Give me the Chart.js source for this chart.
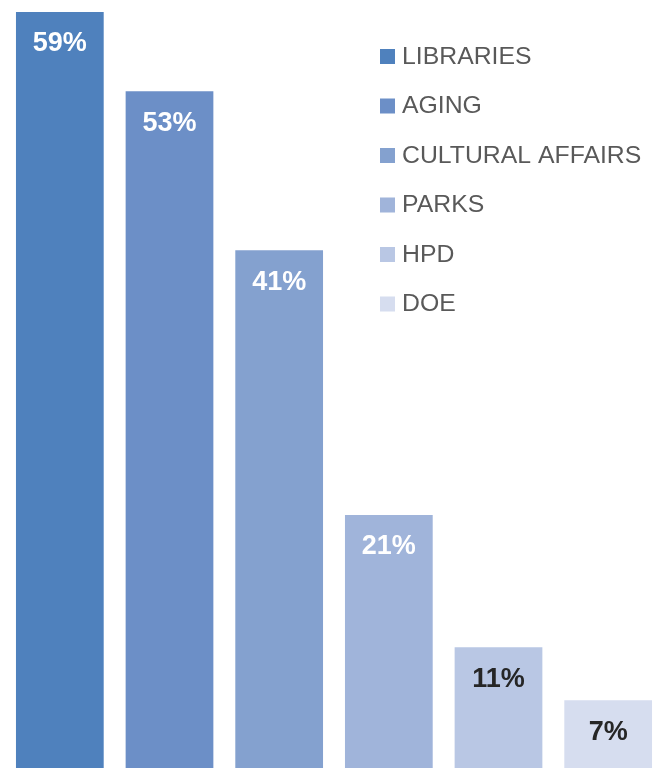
<!DOCTYPE html>
<html>
<head>
<meta charset="utf-8">
<script src="https://cdn.jsdelivr.net/npm/chart.js@4/dist/chart.umd.min.js"></script>
<style>
  html, body { margin: 0; padding: 0; background: #fff; overflow: hidden; width: 655px; height: 768px; }
  #chart { position: absolute; left: 0; top: 0; }
</style>
</head>
<body>
<canvas id="chart" width="663" height="793"></canvas>
<script>
// values (percent)
var categories = ['LIBRARIES', 'AGING', 'CULTURAL AFFAIRS', 'PARKS', 'HPD', 'DOE'];
var values = [59, 53, 41, 21, 11, 7];
var valueLabels = ['59%', '53%', '41%', '21%', '11%', '7%'];
var barColors = ['#4f81bd', '#6c8fc7', '#84a1cf', '#a0b4da', '#b9c7e4', '#d6ddef'];
var labelColors = ['#ffffff', '#ffffff', '#ffffff', '#ffffff', '#262626', '#262626'];

var barLabels = {
    id: 'barLabels',
    afterDatasetsDraw: function(chart) {
        var c = chart.ctx;
        var meta = chart.getDatasetMeta(0);
        c.save();
        c.font = 'bold 27px "Liberation Sans", Arial, sans-serif';
        c.textAlign = 'center';
        c.textBaseline = 'middle';
        meta.data.forEach(function(bar, i) {
            c.fillStyle = labelColors[i];
            c.fillText(valueLabels[i], bar.x, bar.y + 32);
        });
        c.restore();
    }
};

// legend drawn inside the plot, top right
var sideLegend = {
    id: 'sideLegend',
    afterDraw: function(chart) {
        var c = chart.ctx;
        c.save();
        c.font = '24.8px "Liberation Sans", Arial, sans-serif';
        c.textBaseline = 'middle';
        c.textAlign = 'left';
        categories.forEach(function(name, i) {
            var y = 57 + i * 49.5;
            c.fillStyle = barColors[i];
            c.fillRect(380, y - 8, 15, 15);
            c.fillStyle = '#595959';
            c.fillText(name, 402, y);
        });
        c.restore();
    }
};

var ctx = document.getElementById('chart').getContext('2d');
var myChart = new Chart(ctx, {
    type: 'bar',
    data: {
        labels: categories,
        datasets: [{
            label: 'Share',
            data: values,
            backgroundColor: barColors,
            borderWidth: 0,
            barPercentage: 0.8,
            categoryPercentage: 1.0
        }]
    },
    options: {
        responsive: false,
        animation: false,
        devicePixelRatio: 1,
        layout: { padding: { left: 5, right: 0, top: 0, bottom: 0 } },
        plugins: {
            legend: { display: false },
            tooltip: { enabled: false }
        },
        scales: {
            x: { display: false, grid: { display: false } },
            y: { display: false, min: 0, max: 59.9, grid: { display: false } }
        }
    },
    plugins: [barLabels, sideLegend]
});
</script>
</body>
</html>
